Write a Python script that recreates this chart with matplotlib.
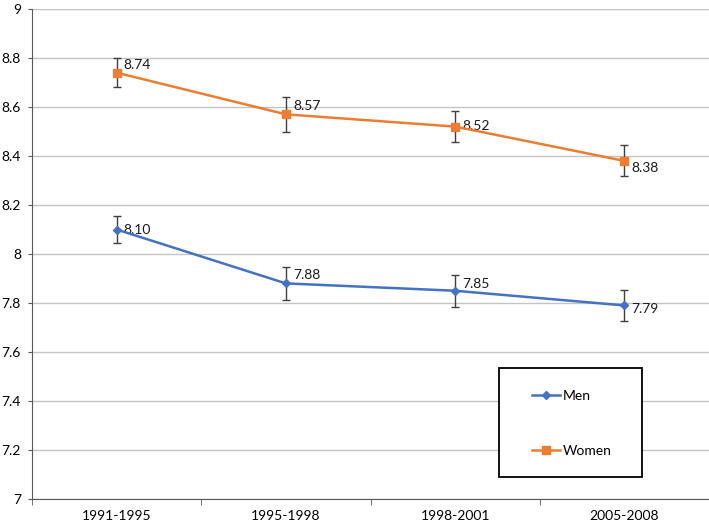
import matplotlib as mpl
mpl.use('Agg')
import numpy as np
import matplotlib.pyplot as plt
from matplotlib.lines import Line2D
from matplotlib.patches import Rectangle

periods = ['1991-1995', '1995-1998', '1998-2001', '2005-2008']
men = [8.10, 7.88, 7.85, 7.79]
women = [8.74, 8.57, 8.52, 8.38]
men_err = [0.057, 0.067, 0.065, 0.064]
women_err = [0.058, 0.072, 0.062, 0.063]
yticks = [7, 7.2, 7.4, 7.6, 7.8, 8, 8.2, 8.4, 8.6, 8.8, 9]
ytick_labels = ['7', '7.2', '7.4', '7.6', '7.8', '8', '8.2', '8.4', '8.6', '8.8', '9']
# label offsets (pixels) as excel placed them
men_lab_dy = [0, 8, 7, -4]
women_lab_dy = [8, 8, 1, -7]

plt.rcParams['font.family'] = ['Lato', 'DejaVu Sans']
plt.rcParams['font.size'] = 10

W, H = 709., 526.
fig = plt.figure(figsize=(7.09, 5.26), dpi=100)
ax = fig.add_axes([32/W, 27/H, 677/W, 490/H])

x = np.arange(len(periods))
blue = '#4472C4'
orange = '#ED7D31'

ax.errorbar(x, men, yerr=men_err, color=blue, marker='D', markersize=4.5,
            linewidth=1.8, ecolor='#404040', elinewidth=1, capsize=3, capthick=1,
            zorder=3)
ax.errorbar(x, women, yerr=women_err, color=orange, marker='s', markersize=6,
            linewidth=1.8, ecolor='#404040', elinewidth=1, capsize=3, capthick=1,
            zorder=3)

for xi, v, dy in zip(x, men, men_lab_dy):
    ax.annotate('%.2f' % v, (xi, v), xytext=(7, dy), textcoords='offset pixels',
                va='center', ha='left', fontsize=10, color='#1a1a1a')
for xi, v, dy in zip(x, women, women_lab_dy):
    ax.annotate('%.2f' % v, (xi, v), xytext=(7, dy), textcoords='offset pixels',
                va='center', ha='left', fontsize=10, color='#1a1a1a')

ax.set_xlim(-0.5, len(periods) - 0.5)
ax.set_ylim(7, 9)
ax.set_yticks(yticks)
ax.set_yticklabels(ytick_labels)
ax.set_xticks(x)
ax.set_xticklabels(periods)
ax.set_xticks(np.arange(-0.5, len(periods)), minor=True)
ax.tick_params(axis='x', which='major', length=0, pad=8)
ax.tick_params(axis='x', which='minor', length=4, color='#595959', direction='out')
ax.tick_params(axis='y', length=3, color='#595959', direction='out', pad=5)
ax.grid(axis='y', color='#C4C4C4', linewidth=1)
ax.set_axisbelow(True)
for s in ['top', 'right']:
    ax.spines[s].set_visible(False)
ax.spines['left'].set_color('#595959')
ax.spines['bottom'].set_color('#595959')

# legend box drawn as in the original (wide, tall, black frame)
bx0, by0, bx1, by1 = 499, 368, 642, 477
fig.patches.append(Rectangle((bx0/W, 1 - by1/H), (bx1-bx0)/W, (by1-by0)/H,
                             transform=fig.transFigure, fill=True, facecolor='white',
                             edgecolor='black', linewidth=1.3, zorder=5))
handles = [Line2D([], [], color=blue, marker='D', markersize=4.5, linewidth=1.8),
           Line2D([], [], color=orange, marker='s', markersize=6, linewidth=1.8)]
leg = fig.legend(handles, ['Men', 'Women'], loc='upper left',
                 bbox_to_anchor=(532/W, 1 - 390/H), frameon=False,
                 borderpad=0, borderaxespad=0, labelspacing=3.1, handlelength=2.0,
                 handletextpad=0.25, fontsize=10)
leg.set_zorder(6)

fig.savefig('out.png', dpi=100)
